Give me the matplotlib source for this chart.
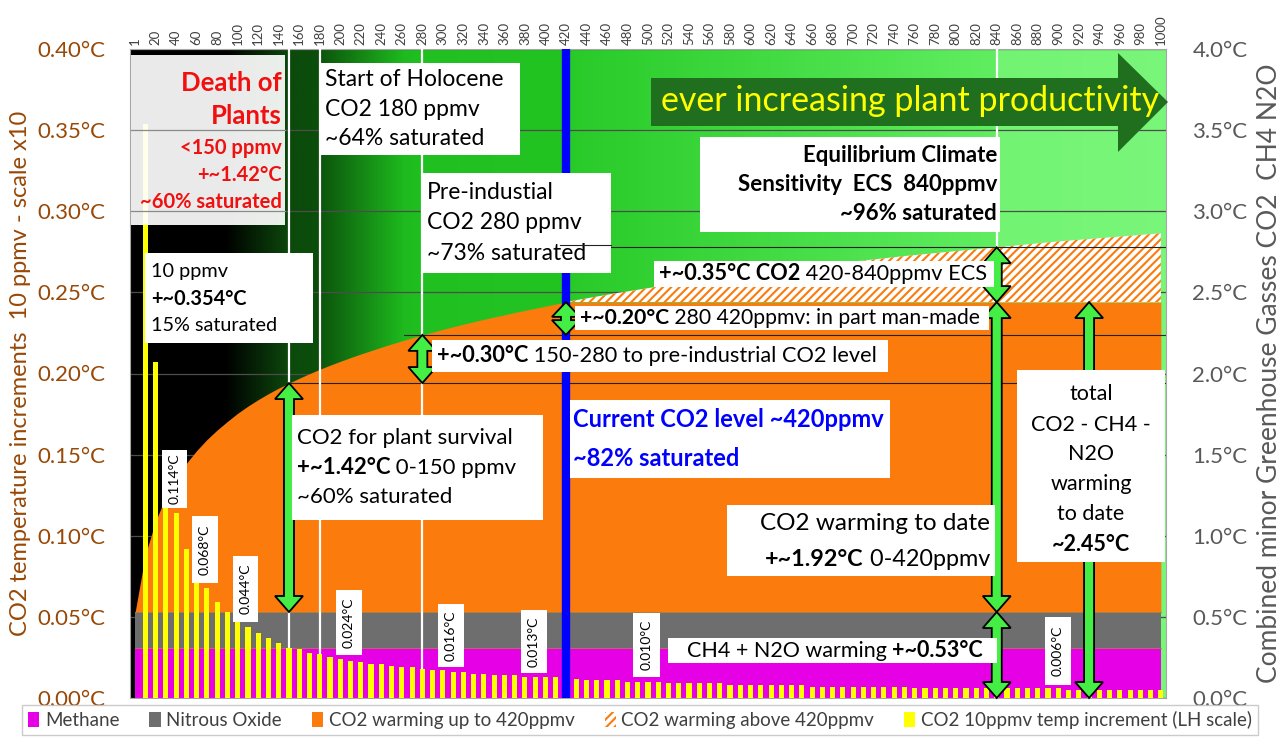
import numpy as np
import matplotlib
matplotlib.use("Agg")
import matplotlib.pyplot as plt
from matplotlib.patches import Rectangle, Polygon

plt.rcParams['font.family'] = ['Lato', 'DejaVu Sans']
plt.rcParams['hatch.linewidth'] = 1.5

# ---------------- data ----------------
bar_ppm = list(range(10, 1001, 10))
incr_10ppm = [
    0.354, 0.207, 0.150, 0.114, 0.092, 0.078, 0.068, 0.059, 0.053, 0.050,   # 10-100
    0.044, 0.040, 0.037, 0.034, 0.031, 0.030, 0.028, 0.027, 0.025, 0.024,   # 110-200
    0.023, 0.022, 0.021, 0.021, 0.020, 0.019, 0.019, 0.018, 0.017, 0.017,   # 210-300
    0.016, 0.016, 0.015, 0.015, 0.014, 0.014, 0.014, 0.013, 0.013, 0.013,   # 310-400
    0.013, 0.012, 0.012, 0.011, 0.011, 0.011, 0.011, 0.010, 0.010, 0.010,   # 410-500
    0.010, 0.009, 0.009, 0.009, 0.009, 0.009, 0.009, 0.008, 0.008, 0.008,   # 510-600
    0.008, 0.008, 0.008, 0.008, 0.008, 0.007, 0.007, 0.007, 0.007, 0.007,   # 610-700
    0.007, 0.007, 0.007, 0.007, 0.007, 0.006, 0.006, 0.006, 0.006, 0.006,   # 710-800
    0.006, 0.006, 0.006, 0.006, 0.006, 0.006, 0.006, 0.006, 0.006, 0.006,   # 810-900
    0.005, 0.005, 0.005, 0.005, 0.005, 0.005, 0.005, 0.005, 0.005, 0.005,   # 910-1000
]
methane_warming = 0.31
n2o_warming = 0.22
current_ppm = 420
marker_ppm = [150, 180, 280, 840]
top_tick_ppm = list(range(0, 1001, 20))
top_tick_labels = ['1'] + [str(v) for v in range(20, 1001, 20)]
left_ticks = [0.00, 0.05, 0.10, 0.15, 0.20, 0.25, 0.30, 0.35, 0.40]
right_ticks = [0.0, 0.5, 1.0, 1.5, 2.0, 2.5, 3.0, 3.5, 4.0]

BROWN = '#984807'
GREY_TXT = '#595959'
ORANGE = '#fb7b0d'
MAGENTA = '#e600e6'
NGREY = '#6e6e6e'
YELLOW = '#ffff00'
AGREEN = '#44ee44'

# cumulative CO2 warming built from the 10 ppmv increments
curve_ppm = np.array([0] + bar_ppm)
cum_w = np.concatenate([[0.0], np.cumsum(incr_10ppm)])
base = methane_warming + n2o_warming
level = base + cum_w
i_cur = bar_ppm.index(current_ppm) + 1
lev_cur = level[i_cur]
orange_top = np.where(curve_ppm <= current_ppm, level, lev_cur)

def lev_at(p):
    return level[list(curve_ppm).index(p)]

# ---------------- figure ----------------
W, H = 1280, 744
fig = plt.figure(figsize=(12.8, 7.44), dpi=100)
X0, X1, YT, YB = 130, 1166, 49, 698
ax = fig.add_axes([X0 / W, (H - YB) / H, (X1 - X0) / W, (YB - YT) / H])
axL = ax.twinx()
axT = ax.twinx()
ax.set_zorder(0); axL.set_zorder(1); axT.set_zorder(2)
axL.patch.set_visible(False); axT.patch.set_visible(False)

XMIN, XMAX = -5, 1005
for a in (ax, axL, axT):
    a.set_xlim(XMIN, XMAX)
ax.set_ylim(0, 4.0)
axT.set_ylim(0, 4.0)
axL.set_ylim(0, 0.40)

def fx(px):
    return (px - X0) / (X1 - X0)

def fy(py):
    return (YB - py) / (YB - YT)

# background gradient
anch = [(-5, (0, 0, 0)), (88, (0, 0, 0)), (148, (12, 70, 12)), (150, (11, 74, 11)),
        (180, (11, 78, 11)), (183, (12, 88, 12)), (262, (30, 186, 30)), (280, (32, 192, 32)),
        (420, (34, 196, 34)), (423, (40, 202, 40)), (838, (96, 238, 96)),
        (842, (114, 244, 114)), (1005, (122, 246, 122))]
xs = np.linspace(XMIN, XMAX, 1200)
ap = [a[0] for a in anch]
img = np.zeros((1, len(xs), 3))
for c in range(3):
    img[0, :, c] = np.interp(xs, ap, [a[1][c] for a in anch]) / 255.0
ax.imshow(img, extent=[XMIN, XMAX, 0, 4.0], aspect='auto', zorder=0, interpolation='bilinear')

# gridlines
ax.set_yticks(right_ticks)
ax.grid(axis='y', color='#4d4d4d', lw=0.9)
ax.set_axisbelow(True)

# stacked fills
h_meth = ax.fill_between(curve_ppm, 0, methane_warming, color=MAGENTA, lw=0, zorder=1)
h_n2o = ax.fill_between(curve_ppm, methane_warming, base, color=NGREY, lw=0, zorder=1)
h_co2 = ax.fill_between(curve_ppm, base, orange_top, color=ORANGE, lw=0, zorder=1)
h_ecs = ax.fill_between(curve_ppm, lev_cur, level, where=curve_ppm >= current_ppm,
                        facecolor='white', edgecolor=ORANGE, hatch='////', lw=0, zorder=1)
ax.plot([curve_ppm[0], curve_ppm[-1]], [methane_warming] * 2, color='#b08040', lw=0.6, zorder=1.1)
ax.plot([curve_ppm[0], curve_ppm[-1]], [base] * 2, color='#b08040', lw=0.6, zorder=1.1)

# guide lines at warming levels
lev150, lev280, lev840 = lev_at(150), lev_at(280), lev_at(840)
ax.plot([150, XMAX], [lev150] * 2, color='#222222', lw=0.8, zorder=2)
ax.plot([262, XMAX], [lev280] * 2, color='#222222', lw=0.8, zorder=2)
ax.plot([415, XMAX], [lev840] * 2, color='#222222', lw=0.8, zorder=2)

# white marker lines
for p in marker_ppm:
    ax.axvline(p, color='white', lw=1.6, zorder=3)

# yellow 10 ppmv bars (left scale)
h_bar = axL.bar(bar_ppm, incr_10ppm, width=5, color=YELLOW, lw=0, zorder=2)

# current CO2 line
axT.axvline(current_ppm, color='#0000ff', lw=6, zorder=1)

# ---------------- annotations (axT) ----------------
def rect(x0, y0, x1, y1, fc='white', alpha=1.0, z=5):
    axT.add_patch(Rectangle((fx(x0), fy(y1)), fx(x1) - fx(x0), fy(y0) - fy(y1),
                            transform=axT.transAxes, facecolor=fc, edgecolor='none',
                            alpha=alpha, zorder=z, clip_on=False))

def txt(px, py, s, size, ha='left', bold=False, color='black', rot=0, z=7):
    return axT.text(fx(px), fy(py), s, transform=axT.transAxes, ha=ha, va='center',
                    fontsize=size, fontweight='bold' if bold else 'normal', color=color,
                    rotation=rot, zorder=z)

def mixed(px, py, parts, size, ha='left', color='black'):
    if ha == 'left':
        s, b = parts[0]
        t = txt(px, py, s, size, 'left', b, color)
        for s, b in parts[1:]:
            t = axT.annotate(s, xy=(1, 0), xycoords=t, ha='left', va='bottom', fontsize=size,
                             fontweight='bold' if b else 'normal', color=color, zorder=7)
    else:
        s, b = parts[-1]
        t = txt(px, py, s, size, 'right', b, color)
        for s, b in reversed(parts[:-1]):
            t = axT.annotate(s, xy=(0, 0), xycoords=t, ha='right', va='bottom', fontsize=size,
                             fontweight='bold' if b else 'normal', color=color, zorder=7)

def dbl_arrow(x, y0, y1, z=4):
    ppx = (XMAX - XMIN) / (X1 - X0)
    vpx = 4.0 / (YB - YT)
    sw, hw = 5 * ppx, 14 * ppx
    hl = min(16 * vpx, 0.45 * (y1 - y0))
    pts = [(x, y1), (x + hw, y1 - hl), (x + sw, y1 - hl), (x + sw, y0 + hl), (x + hw, y0 + hl),
           (x, y0), (x - hw, y0 + hl), (x - sw, y0 + hl), (x - sw, y1 - hl), (x - hw, y1 - hl)]
    axT.add_patch(Polygon(pts, closed=True, facecolor=AGREEN, edgecolor='black', lw=1.3,
                          zorder=z, clip_on=False))

# Death of plants panel
rect(131, 55, 285, 225, fc='white', alpha=0.92, z=0.5)
for g in (3.0, 3.5):
    axT.plot([fx(131), fx(285)], [g / 4.0] * 2, transform=axT.transAxes, color='#8a8a8a', lw=0.9, zorder=0.6)
RED = '#f01010'
txt(282, 83, 'Death of', 18.5, 'right', True, RED)
txt(282, 116, 'Plants', 18.5, 'right', True, RED)
txt(282, 148, '<150 ppmv', 14.5, 'right', True, RED)
txt(282, 175, '+~1.42°C', 14.5, 'right', True, RED)
txt(282, 202, '~60% saturated', 14.5, 'right', True, RED)

# 10 ppmv
rect(145, 253, 313, 343)
txt(151, 272, '10 ppmv', 14.3)
txt(151, 299, '+~0.354°C', 14.3, bold=True)
txt(151, 326, '15% saturated', 14.3)

# Holocene
rect(320, 63, 520, 155)
txt(325, 80, 'Start of Holocene', 16.5)
txt(325, 110, 'CO2 180 ppmv', 16.5)
txt(325, 139, '~64% saturated', 16.5)

# Pre-industrial
rect(422, 173, 611, 273)
txt(427, 193, 'Pre-industial', 16.5)
txt(427, 223, 'CO2 280 ppmv', 16.5)
txt(427, 254, '~73% saturated', 16.5)
axT.plot([fx(560), fx(611)], [fy(245)] * 2, transform=axT.transAxes, color='#222222', lw=0.8, zorder=7.5)

# productivity arrow
arr = [(651, 78), (1118, 78), (1118, 53), (1168, 102), (1118, 152), (1118, 126), (651, 126)]
axT.add_patch(Polygon([(fx(a), fy(b)) for a, b in arr], closed=True, transform=axT.transAxes,
                      facecolor='#1f6f1f', edgecolor='none', zorder=5, clip_on=False))
txt(661, 101, 'ever increasing plant productivity', 24.5, color=YELLOW)

# ECS
rect(700, 137, 1000, 232)
txt(997, 156, 'Equilibrium Climate', 16, 'right', True)
txt(997, 185, 'Sensitivity  ECS  840ppmv', 16, 'right', True)
txt(997, 214, '~96% saturated', 16, 'right', True)

rect(654, 261, 994, 287)
mixed(659, 274, [('+~0.35°C CO2', True), (' 420-840ppmv ECS', False)], 15.7)
rect(575, 306, 989, 330)
mixed(580, 318, [('+~0.20°C', True), (' 280 420ppmv: in part man-made', False)], 15.2)
rect(432, 340, 888, 372)
mixed(437, 356, [('+~0.30°C', True), (' 150-280 to pre-industrial CO2 level', False)], 15.7)

# Current
rect(570, 400, 890, 478)
txt(573, 420, 'Current CO2 level ~420ppmv', 17, bold=True, color='#0000ff')
txt(573, 459, '~82% saturated', 17, bold=True, color='#0000ff')

# plant survival
rect(292, 415, 543, 520)
txt(297, 438, 'CO2 for plant survival', 16)
mixed(297, 468, [('+~1.42°C', True), (' 0-150 ppmv', False)], 16)
txt(297, 497, '~60% saturated', 16)

# warming to date
rect(727, 505, 995, 576)
txt(990, 524, 'CO2 warming to date', 17.5, 'right')
mixed(990, 560, [('+~1.92°C', True), (' 0-420ppmv', False)], 16.8, ha='right')

# CH4 + N2O
rect(668, 638, 997, 663)
mixed(687, 651, [('CH4 + N2O warming ', False), ('+~0.53°C', True)], 15.5)

# total
rect(1017, 370, 1165, 562)
for s, yy in [('total', 394), ('CO2 - CH4 -', 425), ('N2O', 454), ('warming', 484), ('to date', 514)]:
    txt(1091, yy, s, 15.5, 'center')
txt(1091, 545, '~2.45°C', 15.5, 'center', True)

# bar value labels
for (x0, y0, x1, y1, s) in [(162, 450, 187, 508, '0.114°C'), (192, 516, 218, 583, '0.068°C'),
                            (233, 556, 258, 622, '0.044°C'), (336, 590, 362, 655, '0.024°C'),
                            (438, 604, 464, 667, '0.016°C'), (521, 610, 547, 673, '0.013°C'),
                            (633, 613, 660, 677, '0.010°C'), (1045, 617, 1071, 685, '0.006°C')]:
    rect(x0, y0, x1, y1)
    txt((x0 + x1) / 2, (y0 + y1) / 2, s, 10, 'center', rot=90)

# green double arrows
dbl_arrow(150, base, lev150)
dbl_arrow(280, lev150, lev280)
dbl_arrow(420, lev280, lev_cur)
dbl_arrow(840, lev_cur, lev840)
dbl_arrow(840, base, lev_cur)
dbl_arrow(840, 0, base)
dbl_arrow(930, 0, lev_cur)

# ---------------- axes styling ----------------
ax.xaxis.tick_top()
ax.set_xticks(top_tick_ppm)
ax.set_xticklabels(top_tick_labels, rotation=90, fontsize=9.5, color='#404040')
ax.tick_params(axis='x', length=0, pad=3)
ax.yaxis.tick_right()
ax.yaxis.set_label_position('right')
ax.set_yticklabels([f'{v:.1f}°C' for v in right_ticks], fontsize=16, color=GREY_TXT)
ax.tick_params(axis='y', length=0, pad=19)
ax.set_ylabel('Combined minor Greenhouse Gasses CO2  CH4 N2O', fontsize=19, color=GREY_TXT, labelpad=7)
for s in ax.spines.values():
    s.set_color('#a6a6a6'); s.set_linewidth(0.8)

axL.yaxis.tick_left()
axL.yaxis.set_label_position('left')
axL.set_yticks(left_ticks)
axL.set_yticklabels([f'{v:.2f}°C' for v in left_ticks], fontsize=16, color=BROWN)
axL.tick_params(axis='y', length=0, pad=18)
axL.set_ylabel('CO2 temperature increments  10 ppmv - scale x10', fontsize=17, color=BROWN, labelpad=4)
for s in axL.spines.values():
    s.set_visible(False)
axT.axis('off')

# legend
leg = fig.legend([h_meth, h_n2o, h_co2, h_ecs, h_bar],
                 ['Methane', 'Nitrous Oxide', 'CO2 warming up to 420ppmv', 'CO2 warming above 420ppmv',
                  'CO2 10ppmv temp increment (LH scale)'],
                 loc='lower center', bbox_to_anchor=(0.5, 0.0), ncol=5, frameon=True, fancybox=False,
                 edgecolor='#bfbfbf', fontsize=13.5, handlelength=0.6, handleheight=0.9,
                 handletextpad=0.3, columnspacing=1.6, borderpad=0.3)
for t in leg.get_texts():
    t.set_color('#404040')

fig.savefig('out.png', dpi=100)
